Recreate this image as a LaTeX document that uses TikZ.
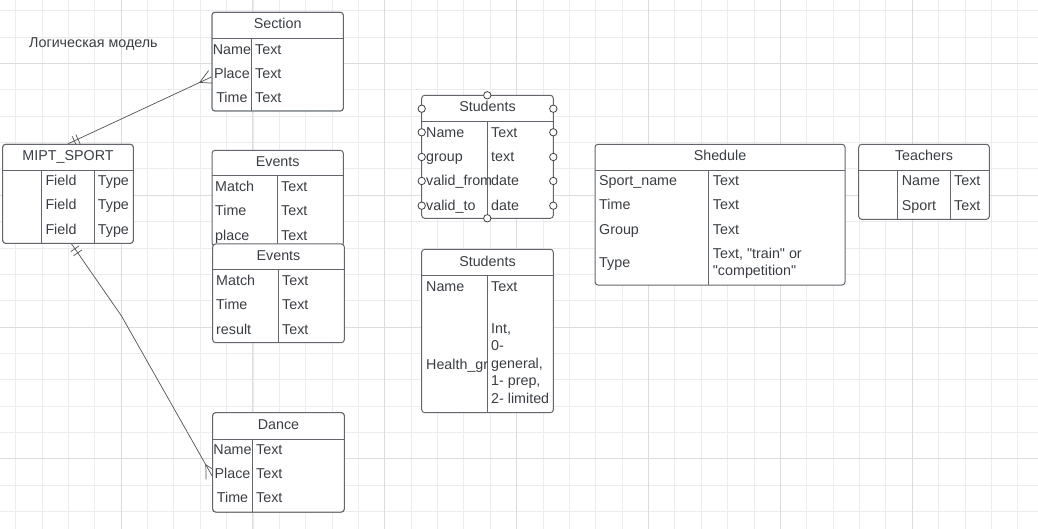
\documentclass[tikz,border=0pt]{standalone}
\usepackage{fontspec}
\setmainfont{Liberation Sans}[Ligatures=TeXOff]
\usetikzlibrary{calc,fit}

\definecolor{gridminor}{RGB}{236,236,236}
\definecolor{gridmajor}{RGB}{220,220,220}
\definecolor{boxline}{RGB}{98,102,108}
\definecolor{txtcol}{RGB}{58,62,68}
\definecolor{relcol}{RGB}{80,82,86}
\newcommand\tblfont{\fontsize{14.3}{17.6}\selectfont}

\tikzset{
  tblbox/.style={draw=boxline, fill=white, line width=1pt, rounded corners=3pt, inner sep=0pt},
  tblline/.style={draw=boxline, line width=1pt},
  tbltitle/.style={anchor=base, inner sep=0pt, text=txtcol, font=\tblfont},
  field/.style={anchor=base west, inner sep=0pt, text=txtcol, font=\tblfont},
  fieldc/.style={field, anchor=base},
  rel/.style={draw=relcol, line width=0.7pt},
  handle/.style={draw=black!75, fill=white, line width=0.8pt}
}

\begin{document}
\begin{tikzpicture}[x=1pt, y=-1pt]
    \useasboundingbox (0,0) rectangle (1038,529);
    \fill[white] (0,0) rectangle (1038,529);

    % Grid
    \foreach \i in {0,...,39}
        \draw[gridminor, line width=0.8pt] ({15.6+26.37*\i},0) -- ({15.6+26.37*\i},529);
    \foreach \i in {0,...,19}
        \draw[gridminor, line width=0.8pt] (0,{10.6+26.37*\i}) -- (1038,{10.6+26.37*\i});
    \foreach \i in {0,...,6}
        \draw[gridmajor, line width=0.9pt] ({121+131.85*\i},0) -- ({121+131.85*\i},529);
    \foreach \i in {0,...,3}
        \draw[gridmajor, line width=0.9pt] (0,{63.3+131.85*\i}) -- (1038,{63.3+131.85*\i});

    \node[field] (heading) at (29,48) {Логическая модель};

    % Frames that the relations need
    \node[tblbox, fit={(2.7,144.3) (133.3,243.3)}] (mipt) {};
    \node[tblbox, fit={(212,12.3) (343.3,111)}] (section) {};
    \node[tblbox, fit={(212.7,412.7) (344.3,512)}] (dance) {};

    % Relations
    \coordinate (sPlace) at ([yshift=-15.3pt]section.west);
    \coordinate (dPlace) at ([yshift=-13.7pt]dance.west);
    \coordinate (mBot) at ([xshift=3.5pt]mipt.south);
    \coordinate (bend) at (121.5,316);

    \draw[rel] (mipt.north) -- (sPlace);
    \foreach \d in {7pt,11pt}
        \draw[rel] ($(mipt.north)!\d!(sPlace)!5pt!90:(sPlace)$) -- ($(mipt.north)!\d!(sPlace)!5pt!-90:(sPlace)$);
    \draw[rel] ($(sPlace)!7pt!90:(mipt.north)$) -- ($(sPlace)!13pt!(mipt.north)$) -- ($(sPlace)!7pt!-90:(mipt.north)$);

    \draw[rel] (mBot) -- (bend) -- (dPlace);
    \foreach \d in {6pt,11pt}
        \draw[rel] ($(mBot)!\d!(bend)!5pt!90:(bend)$) -- ($(mBot)!\d!(bend)!5pt!-90:(bend)$);
    \draw[rel] ($(dPlace)!7pt!90:(bend)$) -- ($(dPlace)!13pt!(bend)$) -- ($(dPlace)!7pt!-90:(bend)$);

    % MIPT_SPORT
    \node[tblbox, fit={(2.7,144.3) (133.3,243.3)}] (miptF) {};
    \draw[tblline] (2.7,170.7) -- (133.3,170.7);
    \draw[tblline] (41.3,170.7) -- (41.3,243.3);
    \draw[tblline] (94.3,170.7) -- (94.3,243.3);
    \node[tbltitle] (miptT) at (68,160.3) {MIPT\_SPORT};
    \node[field] (miptF1) at (45.3,186) {Field};
    \node[field] (miptF2) at (45.3,209.7) {Field};
    \node[field] (miptF3) at (45.3,234.3) {Field};
    \node[field] (miptY1) at (97.7,186) {Type};
    \node[field] (miptY2) at (97.7,209.7) {Type};
    \node[field] (miptY3) at (97.7,234.3) {Type};

    % Section
    \node[tblbox, fit={(212,12.3) (343.3,111)}] (sectionF) {};
    \draw[tblline] (212,38.3) -- (343.3,38.3);
    \draw[tblline] (251.7,38.3) -- (251.7,111);
    \node[tbltitle] (sectionT) at (277.7,29) {Section};
    \node[fieldc] (secName) at (231.9,54.3) {Name};
    \node[fieldc] (secPlace) at (231.9,78.3) {Place};
    \node[fieldc] (secTime) at (231.9,102.3) {Time};
    \node[field] (secNameT) at (255,54.3) {Text};
    \node[field] (secPlaceT) at (255,78.3) {Text};
    \node[field] (secTimeT) at (255,102.3) {Text};

    % Events (first one lies under the second)
    \node[tblbox, fit={(212,150.3) (343.3,246)}] (events) {};
    \draw[tblline] (212,176) -- (343.3,176);
    \draw[tblline] (277.7,176) -- (277.7,246);
    \node[tbltitle] (eventsT) at (277.7,166.3) {Events};
    \node[field] (evMatch) at (215,191.3) {Match};
    \node[field] (evTime) at (215,215.7) {Time};
    \node[field] (evPlace) at (215,240.3) {place};
    \node[field] (evMatchT) at (281,191.3) {Text};
    \node[field] (evTimeT) at (281,215.7) {Text};
    \node[field] (evPlaceT) at (281,240.3) {Text};

    \node[tblbox, fit={(212.7,244) (344.3,342.7)}] (results) {};
    \draw[tblline] (212.7,269.3) -- (344.3,269.3);
    \draw[tblline] (278.3,269.3) -- (278.3,342.7);
    \node[tbltitle] (resultsT) at (278.5,260.3) {Events};
    \node[field] (resMatch) at (216,285) {Match};
    \node[field] (resTime) at (216,309.3) {Time};
    \node[field] (resResult) at (216,334) {result};
    \node[field] (resMatchT) at (282,285) {Text};
    \node[field] (resTimeT) at (282,309.3) {Text};
    \node[field] (resResultT) at (282,334) {Text};

    % Dance
    \node[tblbox, fit={(212.7,412.7) (344.3,512)}] (danceF) {};
    \draw[tblline] (212.7,439.3) -- (344.3,439.3);
    \draw[tblline] (252.3,439.3) -- (252.3,512);
    \node[tbltitle] (danceT) at (278.5,429.3) {Dance};
    \node[fieldc] (dName) at (232.5,454.3) {Name};
    \node[fieldc] (dPlaceN) at (232.5,478.3) {Place};
    \node[fieldc] (dTime) at (232.5,502.7) {Time};
    \node[field] (dNameT) at (256,454.3) {Text};
    \node[field] (dPlaceT) at (256,478.3) {Text};
    \node[field] (dTimeT) at (256,502.7) {Text};

    % Students (selected)
    \node[tblbox, fit={(421.7,95.3) (553.3,218.3)}] (students) {};
    \draw[tblline] (421.7,121.3) -- (553.3,121.3);
    \draw[tblline] (487.3,121.3) -- (487.3,218.3);
    \node[tbltitle] (studentsT) at (487.5,111.7) {Students};
    \node[field] (stName) at (426,137.3) {Name};
    \node[field] (stGroup) at (426,161.7) {group};
    \node[field] (stFrom) at (426,185.7) {valid\_from};
    \node[field] (stTo) at (426,210.7) {valid\_to};
    \node[field] (stNameT) at (491,137.3) {Text};
    \node[field] (stGroupT) at (491,161.7) {text};
    \node[field] (stFromT) at (491,185.7) {date};
    \node[field] (stToT) at (491,210.7) {date};
    \foreach \hy in {108.7,132.3,157,181,205.7} {
        \draw[handle] (421.7,\hy) circle (3.7);
        \draw[handle] (553.3,\hy) circle (3.7);
    }
    \draw[handle] (487.3,95.3) circle (3.7);
    \draw[handle] (487.3,218.3) circle (3.7);

    % Students (health)
    \node[tblbox, fit={(421.7,249.3) (553.3,412.7)}] (health) {};
    \draw[tblline] (421.7,275.3) -- (553.3,275.3);
    \draw[tblline] (487.7,275.3) -- (487.7,412.7);
    \node[tbltitle] (healthT) at (487.5,266) {Students};
    \node[field] (hName) at (426,291) {Name};
    \node[field] (hGroup) at (426,369) {Health\_gr};
    \node[field] (hNameT) at (491,291) {Text};
    \node[field, anchor=west, align=left] (hGroupT) at (491,363.4) {Int,\\0-\\general,\\1- prep,\\2- limited};

    % Shedule
    \node[tblbox, fit={(595,144.3) (845,285)}] (shedule) {};
    \draw[tblline] (595,170.3) -- (845,170.3);
    \draw[tblline] (708,170.3) -- (708,285);
    \node[tbltitle] (sheduleT) at (720,160.7) {Shedule};
    \node[field] (shSport) at (599,185.7) {Sport\_name};
    \node[field] (shTime) at (599,210) {Time};
    \node[field] (shGroup) at (599,234.3) {Group};
    \node[field] (shType) at (599,267.7) {Type};
    \node[field] (shSportT) at (712.7,185.7) {Text};
    \node[field] (shTimeT) at (712.7,210) {Text};
    \node[field] (shGroupT) at (712.7,234.3) {Text};
    \node[field, anchor=west, align=left] (shTypeT) at (712.7,263.5) {Text, "train" or\\"competition"};

    % Teachers
    \node[tblbox, fit={(858.7,144.3) (989.3,219.3)}] (teachers) {};
    \draw[tblline] (858.7,170.3) -- (989.3,170.3);
    \draw[tblline] (897.3,170.3) -- (897.3,219.3);
    \draw[tblline] (950.7,170.3) -- (950.7,219.3);
    \node[tbltitle] (teachersT) at (924,160.7) {Teachers};
    \node[field] (tName) at (901.7,185.7) {Name};
    \node[field] (tSport) at (901.7,210.7) {Sport};
    \node[field] (tNameT) at (954,185.7) {Text};
    \node[field] (tSportT) at (954,210.7) {Text};
\end{tikzpicture}
\end{document}
